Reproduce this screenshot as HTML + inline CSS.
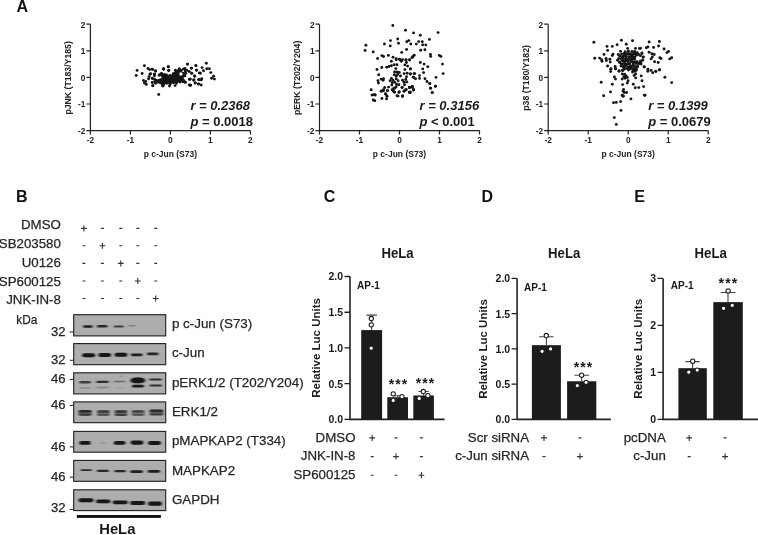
<!DOCTYPE html><html><head><meta charset="utf-8"><style>html,body{margin:0;padding:0;background:#fff;overflow:hidden}svg{display:block;will-change:transform}text{font-family:"Liberation Sans",sans-serif}</style></head><body>
<svg width="758" height="535" viewBox="0 0 758 535">
<defs><filter id="bl" x="-50%" y="-100%" width="200%" height="300%"><feGaussianBlur stdDeviation="0.9 0.7"/></filter><filter id="bl2" x="-50%" y="-100%" width="200%" height="300%"><feGaussianBlur stdDeviation="1.4 1.0"/></filter></defs>
<text x="16.4" y="11.6" font-size="16" font-weight="bold" font-style="normal" text-anchor="start" fill="#111" >A</text>
<text x="16.0" y="201.6" font-size="16" font-weight="bold" font-style="normal" text-anchor="start" fill="#111" >B</text>
<text x="323.8" y="201.6" font-size="16" font-weight="bold" font-style="normal" text-anchor="start" fill="#111" >C</text>
<text x="481.5" y="201.6" font-size="16" font-weight="bold" font-style="normal" text-anchor="start" fill="#111" >D</text>
<text x="634.3" y="201.6" font-size="16" font-weight="bold" font-style="normal" text-anchor="start" fill="#111" >E</text>
<path d="M90.4,24.2 V130.6 H250.4" fill="none" stroke="#222" stroke-width="1.2"/>
<path d="M86.4,24.20 H90.4 M90.40,130.6 V134.6 M86.4,50.80 H90.4 M130.40,130.6 V134.6 M86.4,77.40 H90.4 M170.40,130.6 V134.6 M86.4,104.00 H90.4 M210.40,130.6 V134.6 M86.4,130.60 H90.4 M250.40,130.6 V134.6" fill="none" stroke="#222" stroke-width="1.2"/>
<text x="85.4" y="27.599999999999998" font-size="8.3" font-weight="bold" font-style="normal" text-anchor="end" fill="#222" >2</text>
<text x="85.4" y="54.199999999999996" font-size="8.3" font-weight="bold" font-style="normal" text-anchor="end" fill="#222" >1</text>
<text x="85.4" y="80.8" font-size="8.3" font-weight="bold" font-style="normal" text-anchor="end" fill="#222" >0</text>
<text x="85.4" y="107.4" font-size="8.3" font-weight="bold" font-style="normal" text-anchor="end" fill="#222" >-1</text>
<text x="85.4" y="134.0" font-size="8.3" font-weight="bold" font-style="normal" text-anchor="end" fill="#222" >-2</text>
<text x="90.4" y="142.8" font-size="8.3" font-weight="bold" font-style="normal" text-anchor="middle" fill="#222" >-2</text>
<text x="130.4" y="142.8" font-size="8.3" font-weight="bold" font-style="normal" text-anchor="middle" fill="#222" >-1</text>
<text x="170.4" y="142.8" font-size="8.3" font-weight="bold" font-style="normal" text-anchor="middle" fill="#222" >0</text>
<text x="210.4" y="142.8" font-size="8.3" font-weight="bold" font-style="normal" text-anchor="middle" fill="#222" >1</text>
<text x="250.4" y="142.8" font-size="8.3" font-weight="bold" font-style="normal" text-anchor="middle" fill="#222" >2</text>
<text x="170.4" y="157" font-size="8.5" font-weight="bold" font-style="normal" text-anchor="middle" fill="#222" >p c-Jun (S73)</text>
<text transform="translate(70.80000000000001,77.9) rotate(-90)" font-size="8.7" font-weight="bold" text-anchor="middle" fill="#222">pJNK (T183/Y185)</text>
<text x="190.4" y="109.9" font-size="13" font-weight="bold" font-style="italic" fill="#1a1a1a">r = 0.2368</text>
<text x="190.4" y="126.0" font-size="13" font-weight="bold" fill="#1a1a1a"><tspan font-style="italic">p</tspan> = 0.0018</text>
<path d="M319.5,24.2 V130.6 H479.5" fill="none" stroke="#222" stroke-width="1.2"/>
<path d="M315.5,24.20 H319.5 M319.50,130.6 V134.6 M315.5,50.80 H319.5 M359.50,130.6 V134.6 M315.5,77.40 H319.5 M399.50,130.6 V134.6 M315.5,104.00 H319.5 M439.50,130.6 V134.6 M315.5,130.60 H319.5 M479.50,130.6 V134.6" fill="none" stroke="#222" stroke-width="1.2"/>
<text x="314.5" y="27.599999999999998" font-size="8.3" font-weight="bold" font-style="normal" text-anchor="end" fill="#222" >2</text>
<text x="314.5" y="54.199999999999996" font-size="8.3" font-weight="bold" font-style="normal" text-anchor="end" fill="#222" >1</text>
<text x="314.5" y="80.8" font-size="8.3" font-weight="bold" font-style="normal" text-anchor="end" fill="#222" >0</text>
<text x="314.5" y="107.4" font-size="8.3" font-weight="bold" font-style="normal" text-anchor="end" fill="#222" >-1</text>
<text x="314.5" y="134.0" font-size="8.3" font-weight="bold" font-style="normal" text-anchor="end" fill="#222" >-2</text>
<text x="319.5" y="142.8" font-size="8.3" font-weight="bold" font-style="normal" text-anchor="middle" fill="#222" >-2</text>
<text x="359.5" y="142.8" font-size="8.3" font-weight="bold" font-style="normal" text-anchor="middle" fill="#222" >-1</text>
<text x="399.5" y="142.8" font-size="8.3" font-weight="bold" font-style="normal" text-anchor="middle" fill="#222" >0</text>
<text x="439.5" y="142.8" font-size="8.3" font-weight="bold" font-style="normal" text-anchor="middle" fill="#222" >1</text>
<text x="479.5" y="142.8" font-size="8.3" font-weight="bold" font-style="normal" text-anchor="middle" fill="#222" >2</text>
<text x="399.5" y="157" font-size="8.5" font-weight="bold" font-style="normal" text-anchor="middle" fill="#222" >p c-Jun (S73)</text>
<text transform="translate(299.9,77.9) rotate(-90)" font-size="8.7" font-weight="bold" text-anchor="middle" fill="#222">pERK (T202/Y204)</text>
<text x="419.5" y="109.9" font-size="13" font-weight="bold" font-style="italic" fill="#1a1a1a">r = 0.3156</text>
<text x="419.5" y="126.0" font-size="13" font-weight="bold" fill="#1a1a1a"><tspan font-style="italic">p</tspan> &lt; 0.001</text>
<path d="M548.2,24.2 V130.6 H708.2" fill="none" stroke="#222" stroke-width="1.2"/>
<path d="M544.2,24.20 H548.2 M548.20,130.6 V134.6 M544.2,50.80 H548.2 M588.20,130.6 V134.6 M544.2,77.40 H548.2 M628.20,130.6 V134.6 M544.2,104.00 H548.2 M668.20,130.6 V134.6 M544.2,130.60 H548.2 M708.20,130.6 V134.6" fill="none" stroke="#222" stroke-width="1.2"/>
<text x="543.2" y="27.599999999999998" font-size="8.3" font-weight="bold" font-style="normal" text-anchor="end" fill="#222" >2</text>
<text x="543.2" y="54.199999999999996" font-size="8.3" font-weight="bold" font-style="normal" text-anchor="end" fill="#222" >1</text>
<text x="543.2" y="80.8" font-size="8.3" font-weight="bold" font-style="normal" text-anchor="end" fill="#222" >0</text>
<text x="543.2" y="107.4" font-size="8.3" font-weight="bold" font-style="normal" text-anchor="end" fill="#222" >-1</text>
<text x="543.2" y="134.0" font-size="8.3" font-weight="bold" font-style="normal" text-anchor="end" fill="#222" >-2</text>
<text x="548.2" y="142.8" font-size="8.3" font-weight="bold" font-style="normal" text-anchor="middle" fill="#222" >-2</text>
<text x="588.2" y="142.8" font-size="8.3" font-weight="bold" font-style="normal" text-anchor="middle" fill="#222" >-1</text>
<text x="628.2" y="142.8" font-size="8.3" font-weight="bold" font-style="normal" text-anchor="middle" fill="#222" >0</text>
<text x="668.2" y="142.8" font-size="8.3" font-weight="bold" font-style="normal" text-anchor="middle" fill="#222" >1</text>
<text x="708.2" y="142.8" font-size="8.3" font-weight="bold" font-style="normal" text-anchor="middle" fill="#222" >2</text>
<text x="628.2" y="157" font-size="8.5" font-weight="bold" font-style="normal" text-anchor="middle" fill="#222" >p c-Jun (S73)</text>
<text transform="translate(528.6,77.9) rotate(-90)" font-size="8.7" font-weight="bold" text-anchor="middle" fill="#222">p38 (T180/Y182)</text>
<text x="648.2" y="109.9" font-size="13" font-weight="bold" font-style="italic" fill="#1a1a1a">r = 0.1399</text>
<text x="648.2" y="126.0" font-size="13" font-weight="bold" fill="#1a1a1a"><tspan font-style="italic">p</tspan> = 0.0679</text>
<g fill="#151515"><circle cx="144.4" cy="65.8" r="1.45"/><circle cx="137.1" cy="70.4" r="1.45"/><circle cx="136.2" cy="75.5" r="1.45"/><circle cx="142.1" cy="73.5" r="1.45"/><circle cx="148.0" cy="68.5" r="1.45"/><circle cx="149.7" cy="69.6" r="1.45"/><circle cx="152.8" cy="69.6" r="1.45"/><circle cx="155.6" cy="71.0" r="1.45"/><circle cx="150.0" cy="74.3" r="1.45"/><circle cx="149.1" cy="76.6" r="1.45"/><circle cx="148.6" cy="78.8" r="1.45"/><circle cx="154.2" cy="74.1" r="1.45"/><circle cx="154.5" cy="75.7" r="1.45"/><circle cx="143.5" cy="80.5" r="1.45"/><circle cx="145.8" cy="81.4" r="1.45"/><circle cx="144.4" cy="83.0" r="1.45"/><circle cx="146.3" cy="84.4" r="1.45"/><circle cx="152.5" cy="78.5" r="1.45"/><circle cx="154.7" cy="79.4" r="1.45"/><circle cx="152.2" cy="82.5" r="1.45"/><circle cx="152.8" cy="85.8" r="1.45"/><circle cx="156.4" cy="80.5" r="1.45"/><circle cx="157.5" cy="82.2" r="1.45"/><circle cx="158.7" cy="80.5" r="1.45"/><circle cx="159.2" cy="75.2" r="1.45"/><circle cx="161.5" cy="73.5" r="1.45"/><circle cx="163.7" cy="69.0" r="1.45"/><circle cx="155.3" cy="83.3" r="1.45"/><circle cx="160.9" cy="82.8" r="1.45"/><circle cx="162.6" cy="85.6" r="1.45"/><circle cx="163.1" cy="78.8" r="1.45"/><circle cx="154.7" cy="81.6" r="1.45"/><circle cx="187.5" cy="64.1" r="1.45"/><circle cx="195.9" cy="65.8" r="1.45"/><circle cx="196.5" cy="70.3" r="1.45"/><circle cx="199.3" cy="72.9" r="1.45"/><circle cx="191.4" cy="68.2" r="1.45"/><circle cx="191.7" cy="73.2" r="1.45"/><circle cx="190.3" cy="79.1" r="1.45"/><circle cx="190.6" cy="85.3" r="1.45"/><circle cx="194.5" cy="76.0" r="1.45"/><circle cx="193.7" cy="80.2" r="1.45"/><circle cx="195.1" cy="83.0" r="1.45"/><circle cx="198.7" cy="79.7" r="1.45"/><circle cx="198.7" cy="83.9" r="1.45"/><circle cx="163.6" cy="69.0" r="1.45"/><circle cx="168.4" cy="66.8" r="1.45"/><circle cx="168.7" cy="70.4" r="1.45"/><circle cx="185.0" cy="68.7" r="1.45"/><circle cx="186.9" cy="70.4" r="1.45"/><circle cx="189.2" cy="71.5" r="1.45"/><circle cx="185.2" cy="82.2" r="1.45"/><circle cx="169.5" cy="86.1" r="1.45"/><circle cx="175.1" cy="85.6" r="1.45"/><circle cx="162.8" cy="86.1" r="1.45"/><circle cx="206.3" cy="63.3" r="1.45"/><circle cx="195.9" cy="65.6" r="1.45"/><circle cx="202.1" cy="67.6" r="1.45"/><circle cx="203.5" cy="70.7" r="1.45"/><circle cx="200.4" cy="73.2" r="1.45"/><circle cx="206.8" cy="68.7" r="1.45"/><circle cx="209.4" cy="68.7" r="1.45"/><circle cx="210.8" cy="72.6" r="1.45"/><circle cx="196.5" cy="70.1" r="1.45"/><circle cx="191.4" cy="68.1" r="1.45"/><circle cx="191.7" cy="73.2" r="1.45"/><circle cx="194.8" cy="76.3" r="1.45"/><circle cx="193.9" cy="79.6" r="1.45"/><circle cx="190.0" cy="79.1" r="1.45"/><circle cx="195.3" cy="83.0" r="1.45"/><circle cx="198.4" cy="84.1" r="1.45"/><circle cx="201.2" cy="85.0" r="1.45"/><circle cx="199.0" cy="79.4" r="1.45"/><circle cx="201.8" cy="78.8" r="1.45"/><circle cx="201.2" cy="79.9" r="1.45"/><circle cx="213.6" cy="76.3" r="1.45"/><circle cx="211.6" cy="78.2" r="1.45"/><circle cx="214.4" cy="79.1" r="1.45"/><circle cx="190.3" cy="85.2" r="1.45"/><circle cx="158.7" cy="94.5" r="1.45"/><circle cx="152.2" cy="69.3" r="1.45"/><circle cx="155.6" cy="71.0" r="1.45"/><circle cx="154.5" cy="74.3" r="1.45"/><circle cx="150.6" cy="73.8" r="1.45"/><circle cx="152.2" cy="78.3" r="1.45"/><circle cx="152.8" cy="85.6" r="1.45"/><circle cx="163.5" cy="69.0" r="1.45"/><circle cx="168.2" cy="66.8" r="1.45"/><circle cx="168.8" cy="70.4" r="1.45"/><circle cx="184.8" cy="68.7" r="1.45"/><circle cx="187.6" cy="64.2" r="1.45"/><circle cx="189.3" cy="79.4" r="1.45"/><circle cx="185.3" cy="82.2" r="1.45"/><circle cx="189.3" cy="85.0" r="1.45"/><circle cx="159.6" cy="74.8" r="1.45"/><circle cx="161.5" cy="73.9" r="1.45"/><circle cx="164.4" cy="74.4" r="1.45"/><circle cx="166.5" cy="75.0" r="1.45"/><circle cx="169.8" cy="75.5" r="1.45"/><circle cx="173.2" cy="73.6" r="1.45"/><circle cx="175.4" cy="70.2" r="1.45"/><circle cx="179.3" cy="68.8" r="1.45"/><circle cx="183.2" cy="69.3" r="1.45"/><circle cx="184.9" cy="71.1" r="1.45"/><circle cx="185.8" cy="73.2" r="1.45"/><circle cx="184.9" cy="75.9" r="1.45"/><circle cx="182.5" cy="78.0" r="1.45"/><circle cx="183.6" cy="80.5" r="1.45"/><circle cx="183.0" cy="81.8" r="1.45"/><circle cx="180.0" cy="82.1" r="1.45"/><circle cx="176.3" cy="83.2" r="1.45"/><circle cx="173.4" cy="82.7" r="1.45"/><circle cx="170.1" cy="84.4" r="1.45"/><circle cx="166.7" cy="83.2" r="1.45"/><circle cx="163.6" cy="84.9" r="1.45"/><circle cx="161.8" cy="83.4" r="1.45"/><circle cx="159.8" cy="82.5" r="1.45"/><circle cx="159.5" cy="80.1" r="1.45"/><circle cx="160.9" cy="79.7" r="1.45"/><circle cx="162.4" cy="76.3" r="1.45"/><polygon points="159.6,74.8 161.5,73.9 164.4,74.4 166.5,75.0 169.8,75.5 173.2,73.6 175.4,70.2 179.3,68.8 183.2,69.3 184.9,71.1 185.8,73.2 184.9,75.9 182.5,78.0 183.6,80.5 183.0,81.8 180.0,82.1 176.3,83.2 173.4,82.7 170.1,84.4 166.7,83.2 163.6,84.9 161.8,83.4 159.8,82.5 159.5,80.1 160.9,79.7 162.4,76.3"/></g>
<circle cx="180.9" cy="74.0" r="1.7" fill="#fff"/>
<circle cx="183.2" cy="71.2" r="0.9" fill="#fff"/>
<g fill="#151515"><circle cx="392.8" cy="25.5" r="1.45"/><circle cx="405.5" cy="30.3" r="1.45"/><circle cx="413.6" cy="32.9" r="1.45"/><circle cx="397.7" cy="39.0" r="1.45"/><circle cx="390.5" cy="40.6" r="1.45"/><circle cx="398.5" cy="43.3" r="1.45"/><circle cx="384.4" cy="44.0" r="1.45"/><circle cx="390.2" cy="45.9" r="1.45"/><circle cx="365.9" cy="45.2" r="1.45"/><circle cx="365.1" cy="50.5" r="1.45"/><circle cx="373.2" cy="51.9" r="1.45"/><circle cx="406.8" cy="41.7" r="1.45"/><circle cx="408.8" cy="40.6" r="1.45"/><circle cx="410.8" cy="44.0" r="1.45"/><circle cx="406.6" cy="49.5" r="1.45"/><circle cx="401.7" cy="52.4" r="1.45"/><circle cx="381.9" cy="55.6" r="1.45"/><circle cx="383.5" cy="56.5" r="1.45"/><circle cx="388.4" cy="55.4" r="1.45"/><circle cx="377.6" cy="58.5" r="1.45"/><circle cx="393.0" cy="57.2" r="1.45"/><circle cx="396.2" cy="58.8" r="1.45"/><circle cx="399.3" cy="59.2" r="1.45"/><circle cx="402.5" cy="59.6" r="1.45"/><circle cx="406.1" cy="59.6" r="1.45"/><circle cx="409.6" cy="59.6" r="1.45"/><circle cx="412.8" cy="56.8" r="1.45"/><circle cx="414.2" cy="55.2" r="1.45"/><circle cx="420.3" cy="35.3" r="1.45"/><circle cx="438.1" cy="32.6" r="1.45"/><circle cx="429.4" cy="39.4" r="1.45"/><circle cx="416.3" cy="44.1" r="1.45"/><circle cx="418.7" cy="41.6" r="1.45"/><circle cx="422.3" cy="41.7" r="1.45"/><circle cx="422.7" cy="44.9" r="1.45"/><circle cx="425.8" cy="44.9" r="1.45"/><circle cx="420.7" cy="50.3" r="1.45"/><circle cx="424.9" cy="49.7" r="1.45"/><circle cx="412.0" cy="57.6" r="1.45"/><circle cx="430.4" cy="54.4" r="1.45"/><circle cx="430.7" cy="56.4" r="1.45"/><circle cx="439.3" cy="55.4" r="1.45"/><circle cx="440.9" cy="56.4" r="1.45"/><circle cx="391.4" cy="61.2" r="1.45"/><circle cx="396.2" cy="59.7" r="1.45"/><circle cx="399.7" cy="59.4" r="1.45"/><circle cx="401.3" cy="61.3" r="1.45"/><circle cx="405.7" cy="60.1" r="1.45"/><circle cx="409.6" cy="60.1" r="1.45"/><circle cx="406.5" cy="62.5" r="1.45"/><circle cx="412.8" cy="57.0" r="1.45"/><circle cx="381.8" cy="67.5" r="1.45"/><circle cx="377.0" cy="69.5" r="1.45"/><circle cx="386.7" cy="67.3" r="1.45"/><circle cx="389.0" cy="66.5" r="1.45"/><circle cx="391.4" cy="65.7" r="1.45"/><circle cx="394.2" cy="64.7" r="1.45"/><circle cx="397.0" cy="64.7" r="1.45"/><circle cx="395.8" cy="68.6" r="1.45"/><circle cx="404.9" cy="64.9" r="1.45"/><circle cx="407.6" cy="66.1" r="1.45"/><circle cx="404.9" cy="69.6" r="1.45"/><circle cx="410.4" cy="68.9" r="1.45"/><circle cx="378.7" cy="74.8" r="1.45"/><circle cx="394.6" cy="72.0" r="1.45"/><circle cx="397.0" cy="72.0" r="1.45"/><circle cx="399.3" cy="72.4" r="1.45"/><circle cx="394.2" cy="74.8" r="1.45"/><circle cx="397.7" cy="74.4" r="1.45"/><circle cx="400.5" cy="76.0" r="1.45"/><circle cx="396.2" cy="76.0" r="1.45"/><circle cx="404.1" cy="73.6" r="1.45"/><circle cx="407.2" cy="73.2" r="1.45"/><circle cx="410.4" cy="74.0" r="1.45"/><circle cx="414.0" cy="73.6" r="1.45"/><circle cx="413.6" cy="77.2" r="1.45"/><circle cx="406.5" cy="76.8" r="1.45"/><circle cx="381.1" cy="79.1" r="1.45"/><circle cx="383.5" cy="78.7" r="1.45"/><circle cx="383.1" cy="80.3" r="1.45"/><circle cx="378.0" cy="80.7" r="1.45"/><circle cx="378.4" cy="83.1" r="1.45"/><circle cx="391.4" cy="78.4" r="1.45"/><circle cx="390.2" cy="80.7" r="1.45"/><circle cx="393.0" cy="80.3" r="1.45"/><circle cx="396.2" cy="78.7" r="1.45"/><circle cx="398.1" cy="80.7" r="1.45"/><circle cx="392.2" cy="82.7" r="1.45"/><circle cx="394.6" cy="82.3" r="1.45"/><circle cx="396.6" cy="84.3" r="1.45"/><circle cx="398.9" cy="84.7" r="1.45"/><circle cx="391.8" cy="85.1" r="1.45"/><circle cx="402.5" cy="80.3" r="1.45"/><circle cx="405.7" cy="79.5" r="1.45"/><circle cx="404.1" cy="82.3" r="1.45"/><circle cx="406.8" cy="81.9" r="1.45"/><circle cx="404.5" cy="84.7" r="1.45"/><circle cx="371.2" cy="89.8" r="1.45"/><circle cx="384.7" cy="87.5" r="1.45"/><circle cx="388.6" cy="87.1" r="1.45"/><circle cx="381.9" cy="91.0" r="1.45"/><circle cx="383.5" cy="89.8" r="1.45"/><circle cx="387.5" cy="90.6" r="1.45"/><circle cx="393.8" cy="88.2" r="1.45"/><circle cx="393.0" cy="90.6" r="1.45"/><circle cx="394.6" cy="92.2" r="1.45"/><circle cx="396.2" cy="86.7" r="1.45"/><circle cx="399.3" cy="91.8" r="1.45"/><circle cx="402.1" cy="87.5" r="1.45"/><circle cx="404.1" cy="91.0" r="1.45"/><circle cx="406.1" cy="89.8" r="1.45"/><circle cx="409.6" cy="92.2" r="1.45"/><circle cx="409.6" cy="87.5" r="1.45"/><circle cx="412.0" cy="87.1" r="1.45"/><circle cx="413.6" cy="89.8" r="1.45"/><circle cx="373.6" cy="94.6" r="1.45"/><circle cx="375.2" cy="95.0" r="1.45"/><circle cx="385.5" cy="93.8" r="1.45"/><circle cx="386.7" cy="95.8" r="1.45"/><circle cx="397.0" cy="95.8" r="1.45"/><circle cx="402.5" cy="95.8" r="1.45"/><circle cx="420.3" cy="62.5" r="1.45"/><circle cx="424.1" cy="64.1" r="1.45"/><circle cx="427.8" cy="66.7" r="1.45"/><circle cx="422.7" cy="68.9" r="1.45"/><circle cx="423.6" cy="72.6" r="1.45"/><circle cx="442.5" cy="64.1" r="1.45"/><circle cx="443.1" cy="73.6" r="1.45"/><circle cx="436.0" cy="77.4" r="1.45"/><circle cx="414.7" cy="73.6" r="1.45"/><circle cx="413.2" cy="77.2" r="1.45"/><circle cx="415.5" cy="78.7" r="1.45"/><circle cx="419.5" cy="75.6" r="1.45"/><circle cx="419.5" cy="78.4" r="1.45"/><circle cx="425.0" cy="78.7" r="1.45"/><circle cx="427.0" cy="81.5" r="1.45"/><circle cx="429.8" cy="83.5" r="1.45"/><circle cx="435.3" cy="86.3" r="1.45"/><circle cx="430.6" cy="88.2" r="1.45"/><circle cx="432.2" cy="92.6" r="1.45"/><circle cx="412.4" cy="86.7" r="1.45"/><circle cx="413.6" cy="89.8" r="1.45"/><circle cx="410.4" cy="92.2" r="1.45"/><circle cx="410.4" cy="68.9" r="1.45"/><circle cx="410.4" cy="74.0" r="1.45"/><circle cx="372.0" cy="95.1" r="1.45"/><circle cx="374.8" cy="94.9" r="1.45"/><circle cx="373.2" cy="100.0" r="1.45"/><circle cx="374.8" cy="100.8" r="1.45"/><circle cx="381.1" cy="91.2" r="1.45"/><circle cx="383.5" cy="90.7" r="1.45"/><circle cx="387.5" cy="90.7" r="1.45"/><circle cx="385.5" cy="94.1" r="1.45"/><circle cx="387.1" cy="96.5" r="1.45"/><circle cx="381.9" cy="98.5" r="1.45"/><circle cx="386.5" cy="98.9" r="1.45"/><circle cx="392.2" cy="89.7" r="1.45"/><circle cx="393.8" cy="91.7" r="1.45"/><circle cx="394.6" cy="88.2" r="1.45"/><circle cx="398.9" cy="92.5" r="1.45"/><circle cx="398.1" cy="96.1" r="1.45"/><circle cx="402.5" cy="96.5" r="1.45"/><circle cx="402.1" cy="87.4" r="1.45"/><circle cx="404.1" cy="91.3" r="1.45"/><circle cx="406.1" cy="89.7" r="1.45"/><circle cx="409.6" cy="87.4" r="1.45"/><circle cx="412.0" cy="87.0" r="1.45"/><circle cx="413.6" cy="90.1" r="1.45"/><circle cx="409.6" cy="92.5" r="1.45"/><circle cx="429.7" cy="83.6" r="1.45"/><circle cx="435.5" cy="86.2" r="1.45"/><circle cx="430.5" cy="88.2" r="1.45"/><circle cx="432.3" cy="92.5" r="1.45"/><circle cx="409.7" cy="92.3" r="1.45"/><circle cx="409.4" cy="87.5" r="1.45"/><circle cx="412.1" cy="86.7" r="1.45"/><circle cx="413.3" cy="89.9" r="1.45"/><circle cx="405.8" cy="89.9" r="1.45"/></g>
<g fill="#151515"><circle cx="593.9" cy="42.3" r="1.45"/><circle cx="621.4" cy="40.3" r="1.45"/><circle cx="632.5" cy="40.7" r="1.45"/><circle cx="607.0" cy="46.4" r="1.45"/><circle cx="612.3" cy="46.4" r="1.45"/><circle cx="617.1" cy="44.8" r="1.45"/><circle cx="626.3" cy="44.2" r="1.45"/><circle cx="627.7" cy="48.4" r="1.45"/><circle cx="635.5" cy="48.4" r="1.45"/><circle cx="639.5" cy="48.4" r="1.45"/><circle cx="607.6" cy="50.4" r="1.45"/><circle cx="604.0" cy="54.4" r="1.45"/><circle cx="613.1" cy="54.1" r="1.45"/><circle cx="612.3" cy="55.5" r="1.45"/><circle cx="594.7" cy="58.3" r="1.45"/><circle cx="599.6" cy="58.1" r="1.45"/><circle cx="601.6" cy="59.7" r="1.45"/><circle cx="602.0" cy="61.3" r="1.45"/><circle cx="606.0" cy="58.5" r="1.45"/><circle cx="606.4" cy="60.5" r="1.45"/><circle cx="609.9" cy="59.3" r="1.45"/><circle cx="610.2" cy="62.1" r="1.45"/><circle cx="617.5" cy="60.2" r="1.45"/><circle cx="607.6" cy="66.0" r="1.45"/><circle cx="611.1" cy="68.8" r="1.45"/><circle cx="615.1" cy="66.4" r="1.45"/><circle cx="615.5" cy="68.8" r="1.45"/><circle cx="619.0" cy="70.8" r="1.45"/><circle cx="644.0" cy="66.8" r="1.45"/><circle cx="642.0" cy="53.0" r="1.45"/><circle cx="620.6" cy="51.4" r="1.45"/><circle cx="618.2" cy="54.5" r="1.45"/><circle cx="619.8" cy="56.1" r="1.45"/><circle cx="622.2" cy="57.3" r="1.45"/><circle cx="625.4" cy="53.0" r="1.45"/><circle cx="628.1" cy="54.1" r="1.45"/><circle cx="630.5" cy="53.7" r="1.45"/><circle cx="626.2" cy="56.5" r="1.45"/><circle cx="634.1" cy="53.0" r="1.45"/><circle cx="637.2" cy="52.6" r="1.45"/><circle cx="636.5" cy="55.3" r="1.45"/><circle cx="632.9" cy="57.3" r="1.45"/><circle cx="634.5" cy="59.3" r="1.45"/><circle cx="640.4" cy="55.7" r="1.45"/><circle cx="643.2" cy="57.3" r="1.45"/><circle cx="642.8" cy="60.1" r="1.45"/><circle cx="623.8" cy="60.9" r="1.45"/><circle cx="622.2" cy="64.0" r="1.45"/><circle cx="621.0" cy="66.0" r="1.45"/><circle cx="624.6" cy="62.9" r="1.45"/><circle cx="627.7" cy="61.3" r="1.45"/><circle cx="629.3" cy="64.0" r="1.45"/><circle cx="631.7" cy="61.7" r="1.45"/><circle cx="632.5" cy="65.6" r="1.45"/><circle cx="636.5" cy="61.7" r="1.45"/><circle cx="638.8" cy="63.2" r="1.45"/><circle cx="640.4" cy="60.9" r="1.45"/><circle cx="630.9" cy="68.0" r="1.45"/><circle cx="634.1" cy="68.8" r="1.45"/><circle cx="637.2" cy="67.2" r="1.45"/><circle cx="627.7" cy="67.2" r="1.45"/><circle cx="624.6" cy="68.8" r="1.45"/><circle cx="635.7" cy="70.4" r="1.45"/><circle cx="622.2" cy="70.4" r="1.45"/><circle cx="624.5" cy="55.0" r="1.45"/><circle cx="621.5" cy="59.0" r="1.45"/><circle cx="626.0" cy="59.0" r="1.45"/><circle cx="629.5" cy="57.0" r="1.45"/><circle cx="631.0" cy="59.5" r="1.45"/><circle cx="626.0" cy="65.0" r="1.45"/><circle cx="628.5" cy="70.0" r="1.45"/><circle cx="633.0" cy="71.0" r="1.45"/><circle cx="619.5" cy="62.5" r="1.45"/><circle cx="623.5" cy="66.5" r="1.45"/><circle cx="630.5" cy="66.5" r="1.45"/><circle cx="628.5" cy="51.5" r="1.45"/><circle cx="632.0" cy="55.5" r="1.45"/><circle cx="649.1" cy="42.0" r="1.45"/><circle cx="659.4" cy="41.5" r="1.45"/><circle cx="646.3" cy="47.8" r="1.45"/><circle cx="647.9" cy="47.0" r="1.45"/><circle cx="653.6" cy="47.4" r="1.45"/><circle cx="658.6" cy="46.0" r="1.45"/><circle cx="664.1" cy="49.0" r="1.45"/><circle cx="666.9" cy="52.6" r="1.45"/><circle cx="668.5" cy="51.4" r="1.45"/><circle cx="649.1" cy="52.2" r="1.45"/><circle cx="651.9" cy="53.7" r="1.45"/><circle cx="654.2" cy="54.5" r="1.45"/><circle cx="652.3" cy="56.9" r="1.45"/><circle cx="651.1" cy="58.9" r="1.45"/><circle cx="643.2" cy="56.9" r="1.45"/><circle cx="642.8" cy="60.1" r="1.45"/><circle cx="640.8" cy="62.5" r="1.45"/><circle cx="659.8" cy="57.7" r="1.45"/><circle cx="661.0" cy="58.5" r="1.45"/><circle cx="669.7" cy="58.9" r="1.45"/><circle cx="671.7" cy="57.7" r="1.45"/><circle cx="654.6" cy="61.7" r="1.45"/><circle cx="658.2" cy="62.5" r="1.45"/><circle cx="644.4" cy="67.0" r="1.45"/><circle cx="647.9" cy="69.2" r="1.45"/><circle cx="651.1" cy="70.4" r="1.45"/><circle cx="655.8" cy="71.2" r="1.45"/><circle cx="659.4" cy="69.6" r="1.45"/><circle cx="640.4" cy="48.2" r="1.45"/><circle cx="610.7" cy="69.2" r="1.45"/><circle cx="610.7" cy="71.6" r="1.45"/><circle cx="615.5" cy="68.8" r="1.45"/><circle cx="619.0" cy="71.2" r="1.45"/><circle cx="623.0" cy="70.4" r="1.45"/><circle cx="624.6" cy="68.8" r="1.45"/><circle cx="630.5" cy="68.8" r="1.45"/><circle cx="634.1" cy="69.6" r="1.45"/><circle cx="636.5" cy="70.0" r="1.45"/><circle cx="632.5" cy="72.0" r="1.45"/><circle cx="635.7" cy="73.9" r="1.45"/><circle cx="634.1" cy="75.5" r="1.45"/><circle cx="635.7" cy="77.9" r="1.45"/><circle cx="641.2" cy="75.9" r="1.45"/><circle cx="642.0" cy="80.7" r="1.45"/><circle cx="622.2" cy="73.9" r="1.45"/><circle cx="624.6" cy="74.3" r="1.45"/><circle cx="626.2" cy="75.9" r="1.45"/><circle cx="623.8" cy="76.7" r="1.45"/><circle cx="627.3" cy="77.5" r="1.45"/><circle cx="622.2" cy="79.1" r="1.45"/><circle cx="625.0" cy="78.3" r="1.45"/><circle cx="628.1" cy="80.7" r="1.45"/><circle cx="627.3" cy="83.0" r="1.45"/><circle cx="614.4" cy="76.9" r="1.45"/><circle cx="615.5" cy="79.1" r="1.45"/><circle cx="601.2" cy="82.2" r="1.45"/><circle cx="612.3" cy="84.2" r="1.45"/><circle cx="622.6" cy="84.6" r="1.45"/><circle cx="633.3" cy="84.2" r="1.45"/><circle cx="635.3" cy="87.8" r="1.45"/><circle cx="638.8" cy="87.6" r="1.45"/><circle cx="643.6" cy="86.6" r="1.45"/><circle cx="623.6" cy="89.4" r="1.45"/><circle cx="623.0" cy="91.0" r="1.45"/><circle cx="626.6" cy="92.5" r="1.45"/><circle cx="624.2" cy="92.5" r="1.45"/><circle cx="610.5" cy="91.9" r="1.45"/><circle cx="603.6" cy="95.7" r="1.45"/><circle cx="622.2" cy="95.3" r="1.45"/><circle cx="623.4" cy="96.1" r="1.45"/><circle cx="630.9" cy="98.9" r="1.45"/><circle cx="644.4" cy="95.3" r="1.45"/><circle cx="613.5" cy="102.8" r="1.45"/><circle cx="616.3" cy="102.4" r="1.45"/><circle cx="620.6" cy="101.6" r="1.45"/><circle cx="647.9" cy="71.2" r="1.45"/><circle cx="652.7" cy="72.7" r="1.45"/><circle cx="655.8" cy="71.6" r="1.45"/><circle cx="659.4" cy="70.0" r="1.45"/><circle cx="645.1" cy="95.3" r="1.45"/><circle cx="664.9" cy="77.3" r="1.45"/><circle cx="671.7" cy="82.6" r="1.45"/><circle cx="621.0" cy="110.4" r="1.45"/><circle cx="614.3" cy="117.6" r="1.45"/><circle cx="616.3" cy="124.4" r="1.45"/><circle cx="623.0" cy="96.2" r="1.45"/><circle cx="625.2" cy="51.8" r="1.45"/><circle cx="628.4" cy="51.2" r="1.45"/><circle cx="632.0" cy="51.5" r="1.45"/><circle cx="634.7" cy="51.5" r="1.45"/><circle cx="621.5" cy="54.1" r="1.45"/><circle cx="624.0" cy="53.5" r="1.45"/><circle cx="627.4" cy="54.0" r="1.45"/><circle cx="630.2" cy="54.4" r="1.45"/><circle cx="633.1" cy="54.4" r="1.45"/><circle cx="635.6" cy="54.3" r="1.45"/><circle cx="638.6" cy="54.4" r="1.45"/><circle cx="641.9" cy="53.6" r="1.45"/><circle cx="620.0" cy="56.3" r="1.45"/><circle cx="622.8" cy="56.4" r="1.45"/><circle cx="625.6" cy="56.6" r="1.45"/><circle cx="628.7" cy="56.9" r="1.45"/><circle cx="631.7" cy="56.9" r="1.45"/><circle cx="634.8" cy="57.0" r="1.45"/><circle cx="618.6" cy="58.7" r="1.45"/><circle cx="621.6" cy="59.1" r="1.45"/><circle cx="623.9" cy="58.6" r="1.45"/><circle cx="627.4" cy="59.5" r="1.45"/><circle cx="629.5" cy="59.3" r="1.45"/><circle cx="632.8" cy="58.7" r="1.45"/><circle cx="619.9" cy="62.0" r="1.45"/><circle cx="622.6" cy="61.1" r="1.45"/><circle cx="625.8" cy="61.0" r="1.45"/><circle cx="628.3" cy="61.4" r="1.45"/><circle cx="631.6" cy="61.2" r="1.45"/><circle cx="633.9" cy="61.9" r="1.45"/><circle cx="637.1" cy="62.0" r="1.45"/><circle cx="621.3" cy="64.1" r="1.45"/><circle cx="624.6" cy="64.0" r="1.45"/><circle cx="627.0" cy="64.2" r="1.45"/><circle cx="629.7" cy="63.8" r="1.45"/><circle cx="633.3" cy="64.0" r="1.45"/><circle cx="635.8" cy="63.5" r="1.45"/><circle cx="638.6" cy="64.1" r="1.45"/><circle cx="641.1" cy="64.1" r="1.45"/><circle cx="623.0" cy="66.7" r="1.45"/><circle cx="625.2" cy="66.1" r="1.45"/><circle cx="628.8" cy="67.0" r="1.45"/><circle cx="631.3" cy="66.5" r="1.45"/><circle cx="634.5" cy="66.3" r="1.45"/><circle cx="637.2" cy="66.3" r="1.45"/><circle cx="624.0" cy="68.7" r="1.45"/><circle cx="627.4" cy="68.7" r="1.45"/><circle cx="629.6" cy="68.9" r="1.45"/><circle cx="633.0" cy="68.6" r="1.45"/><circle cx="635.6" cy="68.8" r="1.45"/><circle cx="634.7" cy="71.3" r="1.45"/></g>
<text x="60.9" y="228.8" font-size="13.3" font-weight="normal" font-style="normal" text-anchor="end" fill="#262626" stroke="#262626" stroke-width="0.25" >DMSO</text>
<text x="60.9" y="247.6" font-size="13.3" font-weight="normal" font-style="normal" text-anchor="end" fill="#262626" stroke="#262626" stroke-width="0.25" >SB203580</text>
<text x="60.9" y="266.8" font-size="13.3" font-weight="normal" font-style="normal" text-anchor="end" fill="#262626" stroke="#262626" stroke-width="0.25" >U0126</text>
<text x="60.9" y="285.8" font-size="13.3" font-weight="normal" font-style="normal" text-anchor="end" fill="#262626" stroke="#262626" stroke-width="0.25" >SP600125</text>
<text x="60.9" y="304.4" font-size="13.3" font-weight="normal" font-style="normal" text-anchor="end" fill="#262626" stroke="#262626" stroke-width="0.25" >JNK-IN-8</text>
<path d="M81.0,228.4 H86.8 M83.9,225.4 V231.4 M100.9,228.4 H103.9 M119.3,228.4 H122.3 M136.3,228.4 H139.3 M154.2,228.4 H157.2 M82.4,245.8 H85.4 M99.5,245.8 H105.3 M102.4,242.8 V248.8 M119.3,245.8 H122.3 M136.3,245.8 H139.3 M154.2,245.8 H157.2 M82.4,263.4 H85.4 M100.9,263.4 H103.9 M117.9,263.4 H123.7 M120.8,260.4 V266.4 M136.3,263.4 H139.3 M154.2,263.4 H157.2 M82.4,281.0 H85.4 M100.9,281.0 H103.9 M119.3,281.0 H122.3 M134.9,281.0 H140.7 M137.8,278.0 V284.0 M154.2,281.0 H157.2 M82.4,298.5 H85.4 M100.9,298.5 H103.9 M119.3,298.5 H122.3 M136.3,298.5 H139.3 M152.8,298.5 H158.6 M155.7,295.5 V301.5" stroke="#333" stroke-width="1.1" fill="none"/>
<text x="16.3" y="323.8" font-size="11.9" font-weight="normal" font-style="normal" text-anchor="start" fill="#262626" stroke="#262626" stroke-width="0.25" >kDa</text>
<rect x="73.7" y="314.7" width="92" height="21.2" fill="#adadad" stroke="#1e1e1e" stroke-width="1.1"/>
<text x="171.9" y="328.4" font-size="13.4" font-weight="normal" font-style="normal" text-anchor="start" fill="#262626" stroke="#262626" stroke-width="0.25" >p c-Jun (S73)</text>
<text x="65.6" y="335.5" font-size="13.1" font-weight="normal" font-style="normal" text-anchor="end" fill="#262626" stroke="#262626" stroke-width="0.25" >32</text>
<path d="M69.8,332.0 H73.2" stroke="#333" stroke-width="1.1"/>
<rect x="73.7" y="343.6" width="92" height="21.1" fill="#adadad" stroke="#1e1e1e" stroke-width="1.1"/>
<text x="171.9" y="357.4" font-size="13.4" font-weight="normal" font-style="normal" text-anchor="start" fill="#262626" stroke="#262626" stroke-width="0.25" >c-Jun</text>
<text x="65.6" y="363.9" font-size="13.1" font-weight="normal" font-style="normal" text-anchor="end" fill="#262626" stroke="#262626" stroke-width="0.25" >32</text>
<path d="M69.8,360.3 H73.2" stroke="#333" stroke-width="1.1"/>
<rect x="73.7" y="372.8" width="92" height="21.1" fill="#adadad" stroke="#1e1e1e" stroke-width="1.1"/>
<text x="171.9" y="386.5" font-size="13.4" font-weight="normal" font-style="normal" text-anchor="start" fill="#262626" stroke="#262626" stroke-width="0.25" >pERK1/2 (T202/Y204)</text>
<text x="65.6" y="383.0" font-size="13.1" font-weight="normal" font-style="normal" text-anchor="end" fill="#262626" stroke="#262626" stroke-width="0.25" >46</text>
<path d="M69.8,379.5 H73.2" stroke="#333" stroke-width="1.1"/>
<rect x="73.7" y="401.9" width="92" height="20.8" fill="#adadad" stroke="#1e1e1e" stroke-width="1.1"/>
<text x="171.9" y="415.6" font-size="13.4" font-weight="normal" font-style="normal" text-anchor="start" fill="#262626" stroke="#262626" stroke-width="0.25" >ERK1/2</text>
<text x="65.6" y="409.0" font-size="13.1" font-weight="normal" font-style="normal" text-anchor="end" fill="#262626" stroke="#262626" stroke-width="0.25" >46</text>
<path d="M69.8,405.5 H73.2" stroke="#333" stroke-width="1.1"/>
<rect x="73.7" y="431.4" width="92" height="20.8" fill="#adadad" stroke="#1e1e1e" stroke-width="1.1"/>
<text x="171.9" y="444.8" font-size="13.4" font-weight="normal" font-style="normal" text-anchor="start" fill="#262626" stroke="#262626" stroke-width="0.25" >pMAPKAP2 (T334)</text>
<text x="65.6" y="450.6" font-size="13.1" font-weight="normal" font-style="normal" text-anchor="end" fill="#262626" stroke="#262626" stroke-width="0.25" >46</text>
<path d="M69.8,446.9 H73.2" stroke="#333" stroke-width="1.1"/>
<rect x="73.7" y="460.4" width="92" height="20.9" fill="#adadad" stroke="#1e1e1e" stroke-width="1.1"/>
<text x="171.9" y="474.6" font-size="13.4" font-weight="normal" font-style="normal" text-anchor="start" fill="#262626" stroke="#262626" stroke-width="0.25" >MAPKAP2</text>
<text x="65.6" y="481.0" font-size="13.1" font-weight="normal" font-style="normal" text-anchor="end" fill="#262626" stroke="#262626" stroke-width="0.25" >46</text>
<path d="M69.8,477.2 H73.2" stroke="#333" stroke-width="1.1"/>
<rect x="73.7" y="489.8" width="92" height="20.8" fill="#adadad" stroke="#1e1e1e" stroke-width="1.1"/>
<text x="171.9" y="503.7" font-size="13.4" font-weight="normal" font-style="normal" text-anchor="start" fill="#262626" stroke="#262626" stroke-width="0.25" >GAPDH</text>
<text x="65.6" y="511.8" font-size="13.1" font-weight="normal" font-style="normal" text-anchor="end" fill="#262626" stroke="#262626" stroke-width="0.25" >32</text>
<path d="M69.8,509.5 H73.2" stroke="#333" stroke-width="1.1"/>
<g filter="url(#bl)"><rect x="83.00" y="325.15" width="9.60" height="2.70" rx="1.35" fill="#151515" fill-opacity="0.95"/><rect x="97.00" y="324.90" width="10.40" height="2.60" rx="1.30" fill="#151515" fill-opacity="0.9"/><rect x="113.85" y="325.40" width="9.90" height="2.20" rx="1.10" fill="#151515" fill-opacity="0.75"/><rect x="128.25" y="324.90" width="7.90" height="1.60" rx="0.80" fill="#151515" fill-opacity="0.25"/><rect x="82.15" y="353.30" width="12.90" height="4.00" rx="2.00" fill="#151515" fill-opacity="1"/><rect x="98.35" y="353.00" width="12.70" height="4.00" rx="2.00" fill="#151515" fill-opacity="1"/><rect x="114.65" y="352.80" width="12.70" height="4.00" rx="2.00" fill="#151515" fill-opacity="1"/><rect x="130.80" y="353.40" width="11.80" height="2.80" rx="1.40" fill="#151515" fill-opacity="0.95"/><rect x="146.95" y="352.60" width="11.50" height="2.60" rx="1.30" fill="#151515" fill-opacity="0.9"/><rect x="79.30" y="381.00" width="11.40" height="2.40" rx="1.20" fill="#151515" fill-opacity="0.72"/><rect x="96.30" y="380.70" width="12.40" height="2.40" rx="1.20" fill="#151515" fill-opacity="0.85"/><rect x="113.90" y="380.70" width="11.40" height="1.60" rx="0.80" fill="#151515" fill-opacity="0.45"/><rect x="120.20" y="375.60" width="2.40" height="1.20" rx="0.60" fill="#151515" fill-opacity="0.3"/><rect x="131.10" y="378.10" width="13.40" height="4.60" rx="2.30" fill="#151515" fill-opacity="1"/><rect x="149.30" y="378.40" width="12.60" height="2.00" rx="1.00" fill="#151515" fill-opacity="0.85"/><rect x="79.30" y="387.20" width="11.40" height="1.60" rx="0.80" fill="#151515" fill-opacity="0.2"/><rect x="96.30" y="386.70" width="12.40" height="1.60" rx="0.80" fill="#151515" fill-opacity="0.25"/><rect x="114.40" y="386.95" width="10.40" height="1.30" rx="0.65" fill="#151515" fill-opacity="0.08"/><rect x="132.10" y="384.80" width="11.80" height="2.80" rx="1.40" fill="#151515" fill-opacity="1"/><rect x="149.50" y="384.50" width="12.40" height="2.00" rx="1.00" fill="#151515" fill-opacity="0.85"/><rect x="78.45" y="409.90" width="13.30" height="6.00" rx="3.00" fill="#151515" fill-opacity="0.45"/><rect x="96.85" y="410.20" width="12.90" height="5.80" rx="2.90" fill="#151515" fill-opacity="0.38"/><rect x="114.55" y="410.20" width="12.90" height="5.80" rx="2.90" fill="#151515" fill-opacity="0.4"/><rect x="131.65" y="410.20" width="12.90" height="5.80" rx="2.90" fill="#151515" fill-opacity="0.36"/><rect x="149.45" y="409.60" width="14.10" height="6.00" rx="3.00" fill="#151515" fill-opacity="0.42"/><rect x="78.55" y="410.00" width="13.10" height="2.60" rx="1.30" fill="#151515" fill-opacity="0.8"/><rect x="96.95" y="410.35" width="12.70" height="2.30" rx="1.15" fill="#151515" fill-opacity="0.6"/><rect x="114.65" y="410.35" width="12.70" height="2.30" rx="1.15" fill="#151515" fill-opacity="0.62"/><rect x="131.75" y="410.25" width="12.70" height="2.30" rx="1.15" fill="#151515" fill-opacity="0.58"/><rect x="149.55" y="409.60" width="13.90" height="2.60" rx="1.30" fill="#151515" fill-opacity="0.8"/><rect x="78.55" y="413.45" width="13.10" height="2.30" rx="1.15" fill="#151515" fill-opacity="0.5"/><rect x="96.95" y="413.75" width="12.70" height="2.10" rx="1.05" fill="#151515" fill-opacity="0.4"/><rect x="114.65" y="413.65" width="12.70" height="2.30" rx="1.15" fill="#151515" fill-opacity="0.5"/><rect x="131.75" y="413.75" width="12.70" height="2.10" rx="1.05" fill="#151515" fill-opacity="0.38"/><rect x="149.55" y="413.25" width="13.90" height="2.30" rx="1.15" fill="#151515" fill-opacity="0.5"/><rect x="79.30" y="441.00" width="11.40" height="3.80" rx="1.90" fill="#151515" fill-opacity="1"/><rect x="100.30" y="442.30" width="5.40" height="1.80" rx="0.90" fill="#151515" fill-opacity="0.15"/><rect x="113.75" y="441.00" width="11.70" height="3.80" rx="1.90" fill="#151515" fill-opacity="1"/><rect x="130.65" y="440.50" width="12.70" height="4.20" rx="2.10" fill="#151515" fill-opacity="1"/><rect x="148.00" y="440.90" width="13.00" height="4.20" rx="2.10" fill="#151515" fill-opacity="1"/><rect x="80.50" y="469.30" width="11.20" height="1.80" rx="0.90" fill="#151515" fill-opacity="0.85"/><rect x="96.95" y="469.65" width="12.10" height="2.30" rx="1.15" fill="#151515" fill-opacity="0.9"/><rect x="114.30" y="469.95" width="11.60" height="2.30" rx="1.15" fill="#151515" fill-opacity="0.9"/><rect x="130.30" y="470.30" width="12.60" height="2.80" rx="1.40" fill="#151515" fill-opacity="0.95"/><rect x="147.70" y="470.00" width="12.40" height="2.80" rx="1.40" fill="#151515" fill-opacity="0.95"/><rect x="78.55" y="498.30" width="14.90" height="4.00" rx="2.00" fill="#151515" fill-opacity="1"/><rect x="96.10" y="499.60" width="14.20" height="3.60" rx="1.80" fill="#151515" fill-opacity="1"/><rect x="112.75" y="500.60" width="14.90" height="3.60" rx="1.80" fill="#151515" fill-opacity="1"/><rect x="130.25" y="501.10" width="14.90" height="3.80" rx="1.90" fill="#151515" fill-opacity="1"/><rect x="148.05" y="501.60" width="13.90" height="4.20" rx="2.10" fill="#151515" fill-opacity="1"/><ellipse cx="137.8" cy="380.4" rx="7.6" ry="3.1" fill="#151515" fill-opacity="0.8"/></g>
<rect x="76.8" y="515" width="84.1" height="2.9" fill="#111"/>
<text x="117.3" y="533.8" font-size="14.8" font-weight="bold" font-style="normal" text-anchor="middle" fill="#1a1a1a" >HeLa</text>
<path d="M350.0,276.5 V419.4 H444.6" stroke="#222" stroke-width="1.6" fill="none"/>
<text x="343.1" y="423.29999999999995" font-size="10.5" font-weight="bold" font-style="normal" text-anchor="end" fill="#1a1a1a" >0.0</text>
<text x="343.1" y="387.57499999999993" font-size="10.5" font-weight="bold" font-style="normal" text-anchor="end" fill="#1a1a1a" >0.5</text>
<text x="343.1" y="351.84999999999997" font-size="10.5" font-weight="bold" font-style="normal" text-anchor="end" fill="#1a1a1a" >1.0</text>
<text x="343.1" y="316.125" font-size="10.5" font-weight="bold" font-style="normal" text-anchor="end" fill="#1a1a1a" >1.5</text>
<text x="343.1" y="280.4" font-size="10.5" font-weight="bold" font-style="normal" text-anchor="end" fill="#1a1a1a" >2.0</text>
<path d="M344.5,419.40 H350.0 M344.5,383.67 H350.0 M344.5,347.95 H350.0 M344.5,312.23 H350.0 M344.5,276.50 H350.0" stroke="#222" stroke-width="1.3" fill="none"/>
<rect x="361.2" y="330.09" width="20.900000000000034" height="89.31" fill="#1c1c1c"/>
<path d="M366.4,315.08 H376.9 M371.6,315.08 V330.09" stroke="#444" stroke-width="1.1" fill="none"/>
<circle cx="371.3" cy="318.5" r="2.15" fill="#fff" stroke="#1c1c1c" stroke-width="1.05"/>
<circle cx="371.3" cy="324.8" r="2.15" fill="#fff" stroke="#1c1c1c" stroke-width="1.05"/>
<circle cx="371.2" cy="348.2" r="2.15" fill="#fff" stroke="#1c1c1c" stroke-width="1.05"/>
<rect x="387.3" y="397.25" width="20.69999999999999" height="22.15" fill="#1c1c1c"/>
<path d="M392.5,395.82 H402.8 M397.6,395.82 V397.25" stroke="#444" stroke-width="1.1" fill="none"/>
<circle cx="393.2" cy="393.8" r="2.15" fill="#fff" stroke="#1c1c1c" stroke-width="1.05"/>
<circle cx="393.2" cy="400.4" r="2.15" fill="#fff" stroke="#1c1c1c" stroke-width="1.05"/>
<circle cx="402.0" cy="396.7" r="2.15" fill="#fff" stroke="#1c1c1c" stroke-width="1.05"/>
<text x="388.7" y="389.3" font-size="14" font-weight="bold" font-style="normal" text-anchor="start" fill="#1a1a1a" letter-spacing="1.1">***</text>
<rect x="413.3" y="395.46" width="20.599999999999966" height="23.94" fill="#1c1c1c"/>
<path d="M418.5,391.53 H428.8 M423.6,391.53 V395.46" stroke="#444" stroke-width="1.1" fill="none"/>
<circle cx="423.3" cy="391.5" r="2.15" fill="#fff" stroke="#1c1c1c" stroke-width="1.05"/>
<circle cx="419.2" cy="398.4" r="2.15" fill="#fff" stroke="#1c1c1c" stroke-width="1.05"/>
<circle cx="427.9" cy="395.7" r="2.15" fill="#fff" stroke="#1c1c1c" stroke-width="1.05"/>
<text x="415.7" y="387.6" font-size="14" font-weight="bold" font-style="normal" text-anchor="start" fill="#1a1a1a" letter-spacing="1.1">***</text>
<text transform="translate(397.5,258.4) scale(1,1.1)" font-size="13.2" font-weight="bold" text-anchor="middle" fill="#1a1a1a">HeLa</text>
<text x="357.0" y="289.2" font-size="10" font-weight="bold" font-style="normal" text-anchor="start" fill="#1a1a1a" >AP-1</text>
<text transform="translate(320.2,347.9) rotate(-90)" font-size="11.5" font-weight="bold" text-anchor="middle" fill="#1a1a1a">Relative Luc Units</text>
<text x="355.5" y="441.6" font-size="13.3" font-weight="normal" font-style="normal" text-anchor="end" fill="#262626" stroke="#262626" stroke-width="0.25" >DMSO</text>
<text x="355.5" y="460.4" font-size="13.3" font-weight="normal" font-style="normal" text-anchor="end" fill="#262626" stroke="#262626" stroke-width="0.25" >JNK-IN-8</text>
<text x="355.5" y="479.2" font-size="13.3" font-weight="normal" font-style="normal" text-anchor="end" fill="#262626" stroke="#262626" stroke-width="0.25" >SP600125</text>
<path d="M369.3,437.9 H375.1 M372.2,434.9 V440.9 M394.5,437.9 H397.5 M419.9,437.9 H422.9 M370.7,456.6 H373.7 M393.1,456.6 H398.9 M396.0,453.6 V459.6 M419.9,456.6 H422.9 M370.7,475.3 H373.7 M394.5,475.3 H397.5 M418.5,475.3 H424.3 M421.4,472.3 V478.3" stroke="#333" stroke-width="1.1" fill="none"/>
<path d="M517.1,278.4 V419.4 H610.9" stroke="#222" stroke-width="1.6" fill="none"/>
<text x="510.20000000000005" y="423.29999999999995" font-size="10.5" font-weight="bold" font-style="normal" text-anchor="end" fill="#1a1a1a" >0.0</text>
<text x="510.20000000000005" y="388.04999999999995" font-size="10.5" font-weight="bold" font-style="normal" text-anchor="end" fill="#1a1a1a" >0.5</text>
<text x="510.20000000000005" y="352.79999999999995" font-size="10.5" font-weight="bold" font-style="normal" text-anchor="end" fill="#1a1a1a" >1.0</text>
<text x="510.20000000000005" y="317.54999999999995" font-size="10.5" font-weight="bold" font-style="normal" text-anchor="end" fill="#1a1a1a" >1.5</text>
<text x="510.20000000000005" y="282.29999999999995" font-size="10.5" font-weight="bold" font-style="normal" text-anchor="end" fill="#1a1a1a" >2.0</text>
<path d="M511.6,419.40 H517.1 M511.6,384.15 H517.1 M511.6,348.90 H517.1 M511.6,313.65 H517.1 M511.6,278.40 H517.1" stroke="#222" stroke-width="1.3" fill="none"/>
<rect x="531.9" y="345.16" width="29.0" height="74.24" fill="#1c1c1c"/>
<path d="M539.1,336.77 H553.6 M546.4,336.77 V345.16" stroke="#444" stroke-width="1.1" fill="none"/>
<circle cx="546.3" cy="335.5" r="2.15" fill="#fff" stroke="#1c1c1c" stroke-width="1.05"/>
<circle cx="542.1" cy="351.3" r="2.15" fill="#fff" stroke="#1c1c1c" stroke-width="1.05"/>
<circle cx="550.6" cy="348.9" r="2.15" fill="#fff" stroke="#1c1c1c" stroke-width="1.05"/>
<rect x="567.1" y="381.26" width="29.199999999999932" height="38.14" fill="#1c1c1c"/>
<path d="M574.4,375.20 H589.0 M581.7,375.20 V381.26" stroke="#444" stroke-width="1.1" fill="none"/>
<circle cx="581.6" cy="375.2" r="2.15" fill="#fff" stroke="#1c1c1c" stroke-width="1.05"/>
<circle cx="577.3" cy="385.5" r="2.15" fill="#fff" stroke="#1c1c1c" stroke-width="1.05"/>
<circle cx="586.1" cy="382.3" r="2.15" fill="#fff" stroke="#1c1c1c" stroke-width="1.05"/>
<text x="573.7" y="372.1" font-size="14" font-weight="bold" font-style="normal" text-anchor="start" fill="#1a1a1a" letter-spacing="1.1">***</text>
<text transform="translate(564.2,258.4) scale(1,1.1)" font-size="13.2" font-weight="bold" text-anchor="middle" fill="#1a1a1a">HeLa</text>
<text x="524.0" y="290.9" font-size="10" font-weight="bold" font-style="normal" text-anchor="start" fill="#1a1a1a" >AP-1</text>
<text transform="translate(487.1,349.0) rotate(-90)" font-size="11.5" font-weight="bold" text-anchor="middle" fill="#1a1a1a">Relative Luc Units</text>
<text x="529.1" y="441.6" font-size="13.3" font-weight="normal" font-style="normal" text-anchor="end" fill="#262626" stroke="#262626" stroke-width="0.25" >Scr siRNA</text>
<text x="529.1" y="460.4" font-size="13.3" font-weight="normal" font-style="normal" text-anchor="end" fill="#262626" stroke="#262626" stroke-width="0.25" >c-Jun siRNA</text>
<path d="M541.1,437.9 H546.9 M544.0,434.9 V440.9 M578.4,437.9 H581.4 M542.5,456.6 H545.5 M577.0,456.6 H582.8 M579.9,453.6 V459.6" stroke="#333" stroke-width="1.1" fill="none"/>
<path d="M663.1,278.4 V419.4 H758" stroke="#222" stroke-width="1.6" fill="none"/>
<text x="656.2" y="423.29999999999995" font-size="10.5" font-weight="bold" font-style="normal" text-anchor="end" fill="#1a1a1a" >0</text>
<text x="656.2" y="376.29999999999995" font-size="10.5" font-weight="bold" font-style="normal" text-anchor="end" fill="#1a1a1a" >1</text>
<text x="656.2" y="329.29999999999995" font-size="10.5" font-weight="bold" font-style="normal" text-anchor="end" fill="#1a1a1a" >2</text>
<text x="656.2" y="282.29999999999995" font-size="10.5" font-weight="bold" font-style="normal" text-anchor="end" fill="#1a1a1a" >3</text>
<path d="M657.6,419.40 H663.1 M657.6,372.40 H663.1 M657.6,325.40 H663.1 M657.6,278.40 H663.1" stroke="#222" stroke-width="1.3" fill="none"/>
<rect x="678.4" y="368.17" width="28.399999999999977" height="51.23" fill="#1c1c1c"/>
<path d="M685.5,361.59 H699.7 M692.6,361.59 V368.17" stroke="#444" stroke-width="1.1" fill="none"/>
<circle cx="692.7" cy="361.2" r="2.15" fill="#fff" stroke="#1c1c1c" stroke-width="1.05"/>
<circle cx="688.8" cy="372.2" r="2.15" fill="#fff" stroke="#1c1c1c" stroke-width="1.05"/>
<circle cx="697.2" cy="370.1" r="2.15" fill="#fff" stroke="#1c1c1c" stroke-width="1.05"/>
<rect x="713.3" y="302.13" width="29.5" height="117.26" fill="#1c1c1c"/>
<path d="M720.7,292.50 H735.4 M728.0,292.50 V302.13" stroke="#444" stroke-width="1.1" fill="none"/>
<circle cx="728.1" cy="290.9" r="2.15" fill="#fff" stroke="#1c1c1c" stroke-width="1.05"/>
<circle cx="723.6" cy="308.3" r="2.15" fill="#fff" stroke="#1c1c1c" stroke-width="1.05"/>
<circle cx="732.2" cy="305.3" r="2.15" fill="#fff" stroke="#1c1c1c" stroke-width="1.05"/>
<text x="718.6" y="287.5" font-size="14" font-weight="bold" font-style="normal" text-anchor="start" fill="#1a1a1a" letter-spacing="1.1">***</text>
<text transform="translate(710.7,258.4) scale(1,1.1)" font-size="13.2" font-weight="bold" text-anchor="middle" fill="#1a1a1a">HeLa</text>
<text x="670.8" y="289.2" font-size="10" font-weight="bold" font-style="normal" text-anchor="start" fill="#1a1a1a" >AP-1</text>
<text transform="translate(642.4,348.8) rotate(-90)" font-size="11.5" font-weight="bold" text-anchor="middle" fill="#1a1a1a">Relative Luc Units</text>
<text x="665.8" y="441.6" font-size="13.3" font-weight="normal" font-style="normal" text-anchor="end" fill="#262626" stroke="#262626" stroke-width="0.25" >pcDNA</text>
<text x="665.8" y="460.4" font-size="13.3" font-weight="normal" font-style="normal" text-anchor="end" fill="#262626" stroke="#262626" stroke-width="0.25" >c-Jun</text>
<path d="M686.3,437.9 H692.1 M689.2,434.9 V440.9 M723.6,437.9 H726.6 M687.7,456.6 H690.7 M722.2,456.6 H728.0 M725.1,453.6 V459.6" stroke="#333" stroke-width="1.1" fill="none"/>
</svg></body></html>
